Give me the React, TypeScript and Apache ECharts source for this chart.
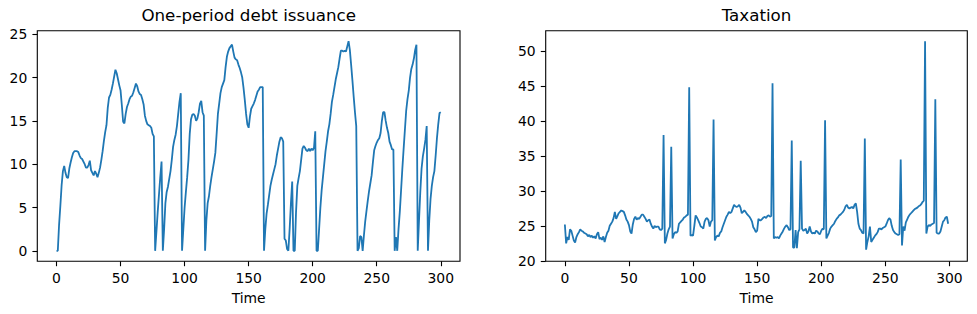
import React, { useEffect, useRef } from "react";
import * as echarts from "echarts";

const debtTitle = "One-period debt issuance";
const taxTitle = "Taxation";
const xName = "Time";

const xTicks = [0, 50, 100, 150, 200, 250, 300];
const debtTicks = [0, 5, 10, 15, 20, 25];
const taxTicks = [20, 25, 30, 35, 40, 45, 50];

// One-period debt issuance, t = 0..300
const debt = [
  0, 0, 3.0, 5.2, 7.6, 9.2, 9.8, 9.0, 8.5, 8.4,
  9.5, 10.2, 10.8, 11.3, 11.5, 11.5, 11.5, 11.4, 11.0, 10.7,
  10.6, 10.3, 10.0, 9.6, 9.6, 9.9, 10.4, 9.3, 9.0, 8.7,
  9.2, 8.9, 8.5, 9.0, 9.6, 10.5, 11.5, 12.7, 13.7, 14.5,
  16.5, 17.7, 18.0, 18.6, 19.3, 20.1, 20.9, 20.5, 19.8, 19.1,
  18.5, 16.8, 14.9, 14.7, 15.8, 16.6, 17.0, 17.5, 17.8, 17.9,
  18.3, 18.8, 19.3, 19.0, 18.4, 18.1, 18.0, 17.5, 16.9, 15.6,
  15.0, 14.6, 14.5, 14.4, 14.2, 13.5, 13.2, 0, 2.2, 4.5,
  6.5, 8.5, 10.3, 0, 2.5, 5.5, 6.8, 7.4, 8.3, 9.2,
  10.5, 12.0, 12.8, 13.4, 14.4, 15.8, 17.2, 18.2, 0, 2.5,
  5.0, 6.8, 8.5, 10.5, 13.5, 15.2, 15.7, 15.8, 15.6, 15.0,
  15.3, 16.0, 17.0, 17.3, 16.0, 15.6, 0, 3.5, 5.5, 6.3,
  7.5, 8.5, 9.4, 10.3, 11.3, 13.5, 15.8, 17.0, 18.2, 18.9,
  19.3, 19.7, 21.2, 22.4, 23.0, 23.4, 23.6, 23.8, 23.0, 22.3,
  22.1, 22.0, 21.5, 21.1, 20.6, 20.0, 18.8, 17.4, 15.8, 14.6,
  14.2, 15.5, 16.4, 16.7, 17.0, 17.4, 17.9, 18.4, 18.6, 18.9,
  18.9, 18.9, 0, 2.5, 4.3, 5.3, 6.4, 7.5, 8.2, 8.8,
  9.4, 10.0, 11.0, 11.8, 12.6, 13.1, 13.0, 12.6, 1.4, 1.2,
  0.2, 0, 2.5, 5.5, 8.0, 0, 0, 4.5, 7.5, 8.4,
  9.2, 10.5, 11.8, 12.1, 11.9, 11.6, 11.5, 11.8, 11.5, 11.8,
  11.6, 11.9, 13.8, 0, 0, 2.5, 5.0, 7.0, 8.5, 10.0,
  11.5, 12.6, 13.8, 14.6, 15.8, 17.2, 18.0, 18.9, 19.8, 20.5,
  21.2, 22.2, 23.1, 23.1, 23.0, 23.1, 23.0, 23.6, 24.2, 23.2,
  21.5, 19.7, 17.8, 16.0, 14.4, 0, 0.3, 1.7, 1.6, 0,
  1.8, 3.4, 4.6, 5.8, 6.9, 7.8, 8.7, 10.2, 11.6, 12.1,
  12.5, 12.8, 13.0, 13.6, 15.0, 16.0, 16.0, 15.0, 14.2, 13.6,
  12.6, 12.2, 11.7, 11.7, 0, 1.6, 0, 2.5, 4.5, 7.0,
  9.5, 11.8, 14.0, 16.2, 17.5, 18.5, 20.0, 21.0, 21.5, 22.2,
  23.2, 23.8, 0, 3.5, 6.8, 9.5, 10.9, 11.8, 12.8, 14.4,
  0, 3.5, 6.0, 7.5, 8.5, 9.2, 11.0, 13.0, 14.6, 15.9,
  16.0,
];

// Taxation, t = 0..299
const tax = [
  25.2, 22.5, 23.4, 23.0, 24.5, 24.3, 23.6, 22.9, 22.6, 23.4,
  23.8, 24.1, 24.5, 24.3, 24.2, 24.0, 23.9, 23.8, 23.5, 23.7,
  23.4, 23.6, 23.3, 23.5, 23.2, 23.8, 24.1, 23.1, 23.3, 23.0,
  23.5, 22.7, 23.4, 24.0, 24.3, 25.0, 25.3, 25.6, 26.1, 27.0,
  26.0, 26.4, 26.8, 27.0, 27.2, 27.1, 27.0, 26.5, 25.9, 25.6,
  25.1, 24.2, 23.9, 25.2, 26.0, 26.3, 25.9, 26.1, 26.0, 26.3,
  26.6, 26.6, 26.3, 26.0, 25.6, 25.8, 25.9, 25.3, 24.9, 24.6,
  25.0, 24.8, 24.9, 24.9, 24.5, 24.4, 24.6, 38.0, 22.5, 23.0,
  23.9, 24.5, 24.9, 36.3, 23.2, 23.8, 24.1, 24.0, 24.2, 25.3,
  25.5, 25.7, 25.9, 26.2, 26.3, 26.5, 26.6, 44.8, 23.6, 23.7,
  23.6, 25.0, 26.5, 26.2, 25.8, 25.4, 24.9, 24.8, 24.6, 25.6,
  26.0, 26.1, 25.8, 24.9, 25.6, 25.8, 40.2, 22.9, 23.4, 23.6,
  23.5, 24.0, 24.2, 24.8, 25.3, 25.8, 26.3, 26.6, 27.0, 26.8,
  27.0, 27.5, 28.0, 27.8, 27.7, 27.8, 28.0, 27.6, 26.8, 27.0,
  27.2, 27.0, 26.7, 26.5, 26.3, 26.0, 25.6, 24.8, 24.5, 24.1,
  24.3, 26.0, 25.8, 25.8, 26.0, 26.2, 26.3, 26.1, 26.4, 26.5,
  26.3, 26.4, 45.4, 23.2, 23.4, 23.3, 23.4, 23.2, 23.6, 23.9,
  24.2, 24.6, 24.9, 25.1, 24.8, 24.4, 24.5, 37.2, 21.9, 21.9,
  24.4, 21.8, 24.1, 24.5, 34.3, 24.6, 24.3, 24.4, 24.6, 23.9,
  24.2, 24.9, 24.2, 23.9, 24.0, 23.9, 24.3, 24.2, 23.9, 23.8,
  24.3, 24.6, 24.5, 40.1, 23.2, 23.6, 24.0, 24.6, 24.9, 25.1,
  25.3, 25.7, 26.0, 26.2, 26.5, 26.6, 26.8, 27.0, 27.3, 27.8,
  28.0, 27.6, 27.5, 27.6, 27.7, 27.5, 28.0, 28.2, 27.0, 25.3,
  24.6, 24.4, 24.0, 23.9, 37.5, 21.6, 22.7, 23.5, 24.9, 22.7,
  23.0, 23.3, 23.6, 23.8, 24.1, 24.6, 24.6, 24.5, 24.7, 24.8,
  24.9, 25.3, 25.8, 26.1, 25.9, 25.0, 24.4, 24.1, 23.9, 23.8,
  23.7, 23.8, 34.5, 22.2, 24.9, 24.3, 25.5, 25.9, 26.3, 26.6,
  26.8, 27.0, 27.2, 27.4, 27.5, 27.6, 27.8, 27.9, 28.1, 28.4,
  28.6, 51.4, 23.9, 24.9, 25.1, 25.0, 25.2, 25.3, 25.4, 43.1,
  24.0, 23.9, 23.9, 24.2, 24.9, 25.6, 25.8, 26.2, 26.3, 25.3,
];

const FONT = "DejaVu Sans";
const LINE = "#1f77b4";

function makeX(gridIndex: number, min: number, max: number) {
  return {
    type: "value",
    gridIndex,
    min,
    max,
    name: xName,
    nameLocation: "middle",
    nameGap: 30,
    nameTextStyle: { color: "#000", fontFamily: FONT, fontSize: 13.9 },
    axisLine: { show: false, onZero: false },
    splitLine: { show: false },
    axisTick: {
      show: true,
      inside: false,
      length: 4.9,
      customValues: xTicks,
      lineStyle: { color: "#000", width: 1.1 },
    },
    axisLabel: {
      customValues: xTicks,
      margin: 10,
      color: "#000",
      fontFamily: FONT,
      fontSize: 13.9,
    },
  };
}

function makeY(gridIndex: number, min: number, max: number, ticks: number[]) {
  return {
    type: "value",
    gridIndex,
    min,
    max,
    axisLine: { show: false, onZero: false },
    splitLine: { show: false },
    axisTick: {
      show: true,
      inside: false,
      length: 4.9,
      customValues: ticks,
      lineStyle: { color: "#000", width: 1.1 },
    },
    axisLabel: {
      customValues: ticks,
      margin: 10,
      color: "#000",
      fontFamily: FONT,
      fontSize: 13.9,
    },
  };
}

export default function App() {
  const ref = useRef<HTMLDivElement>(null);
  useEffect(() => {
    if (!ref.current) return;
    const chart = echarts.init(ref.current, null, { renderer: "svg" });
    const grid = {
      show: true,
      borderColor: "#000",
      borderWidth: 1.1,
      backgroundColor: "#fff",
      top: 30.7,
      bottom: 52.7,
    };
    chart.setOption({
      animation: false,
      backgroundColor: "#fff",
      title: [
        {
          text: debtTitle,
          left: 248.7,
          top: 6.5,
          padding: 0,
          textAlign: "center",
          textStyle: { color: "#000", fontFamily: FONT, fontSize: 16.7, fontWeight: "normal" },
        },
        {
          text: taxTitle,
          left: 756.5,
          top: 6.5,
          padding: 0,
          textAlign: "center",
          textStyle: { color: "#000", fontFamily: FONT, fontSize: 16.7, fontWeight: "normal" },
        },
      ],
      grid: [
        { ...grid, left: 37.3, right: 517 },
        { ...grid, left: 545.7, right: 9.7 },
      ],
      xAxis: [makeX(0, -15, 315), makeX(1, -14.95, 313.95)],
      yAxis: [makeY(0, -1.21, 25.41, debtTicks), makeY(1, 19.93, 52.9, taxTicks)],
      series: [
        {
          type: "line",
          xAxisIndex: 0,
          yAxisIndex: 0,
          data: debt.map((v, i) => [i, v]),
          showSymbol: false,
          lineStyle: { color: LINE, width: 1.8 },
          itemStyle: { color: LINE },
        },
        {
          type: "line",
          xAxisIndex: 1,
          yAxisIndex: 1,
          data: tax.map((v, i) => [i, v]),
          showSymbol: false,
          lineStyle: { color: LINE, width: 1.8 },
          itemStyle: { color: LINE },
        },
      ],
    });
    return () => chart.dispose();
  }, []);
  return (
    <div
      ref={ref}
      style={{ position: "fixed", left: 0, top: 0, width: 977, height: 314, background: "#fff" }}
    />
  );
}
